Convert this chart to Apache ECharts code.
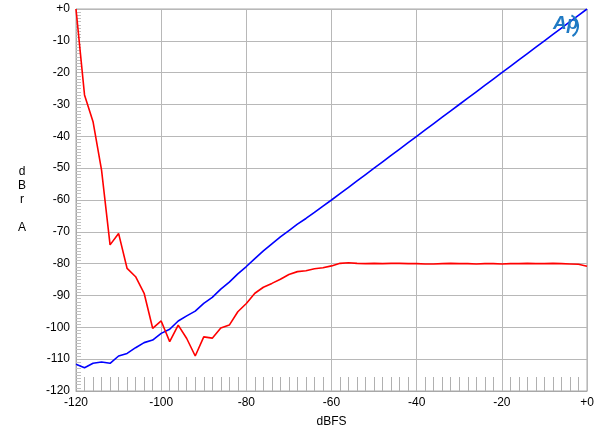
<!DOCTYPE html>
<html><head><meta charset="utf-8">
<script src="https://cdn.jsdelivr.net/npm/echarts@6/dist/echarts.min.js"></script>
<style>html,body{margin:0;padding:0;background:#fff}#c{width:600px;height:436px}</style>
</head><body><div id="c"></div>
<script>
const xValues = [-120,-118,-116,-114,-112,-110,-108,-106,-104,-102,-100,-98,-96,-94,-92,-90,-88,-86,-84,-82,-80,-78,-76,-74,-72,-70,-68,-66,-64,-62,-60,-58,-56,-54,-52,-50,-48,-46,-44,-42,-40,-38,-36,-34,-32,-30,-28,-26,-24,-22,-20,-18,-16,-14,-12,-10,-8,-6,-4,-2,0];
const redValues = [0,-27,-35.4,-50.6,-74.1,-70.5,-81.5,-84.1,-89.3,-100.3,-98.0,-104.5,-99.3,-103.5,-109.0,-103.0,-103.4,-100.2,-99.3,-95.1,-92.5,-89.3,-87.4,-86.2,-84.9,-83.4,-82.5,-82.2,-81.6,-81.3,-80.7,-79.9,-79.7,-79.9,-80.0,-79.9,-80.0,-79.9,-79.9,-80.0,-80.0,-80.1,-80.1,-80.0,-79.9,-80.0,-80.0,-80.1,-80.0,-80.0,-80.1,-80.0,-80.0,-79.9,-80.0,-80.0,-79.9,-80.0,-80.1,-80.2,-80.8];
const blueValues = [-111.6,-112.7,-111.3,-110.9,-111.3,-109.0,-108.2,-106.4,-104.8,-104.0,-101.9,-100.6,-98.0,-96.4,-94.9,-92.5,-90.6,-88.0,-85.8,-83.2,-80.9,-78.4,-76.0,-73.8,-71.6,-69.6,-67.6,-65.8,-63.9,-61.9,-60.0,-58.0,-56.0,-54.0,-52.0,-50.0,-48.0,-46.0,-44.0,-42.0,-40.0,-38.0,-36.0,-34.0,-32.0,-30.0,-28.0,-26.0,-24.0,-22.0,-20.0,-18.0,-16.0,-14.0,-12.0,-10.0,-8.0,-6.0,-4.0,-2.0,0];
const xTickLabels = {"-120":"-120","-100":"-100","-80":"-80","-60":"-60","-40":"-40","-20":"-20","0":"+0"};
const yAxisTitle = "d\nB\nr\n\nA";
const xAxisTitle = "dBFS";

const chart = echarts.init(document.getElementById('c'), null, {renderer:'canvas'});
const font = 'Liberation Sans, Arial, sans-serif';
const gridColor = '#b8b8b8';
chart.setOption({
  animation:false,
  backgroundColor:'#fff',
  grid:{left:76,right:13,top:9,bottom:45,show:true,borderColor:'#a8a8a8',borderWidth:1},
  xAxis:{type:'value',min:-120,max:0,interval:20,
    name:xAxisTitle,nameLocation:'middle',nameGap:25,
    nameTextStyle:{color:'#000',fontSize:12,fontFamily:font},
    axisLine:{show:true,onZero:false,lineStyle:{color:'#a8a8a8'}},
    axisTick:{show:false,inside:true},
    minorTick:{show:true,splitNumber:10,length:14,lineStyle:{color:'#b0b0b0',width:1}},
    axisLabel:{color:'#000',fontSize:12,fontFamily:font,margin:6,formatter:v=>xTickLabels[String(v)]||String(v)},
    splitLine:{show:true,lineStyle:{color:gridColor,width:1}}
  },
  yAxis:{type:'value',min:-120,max:0,interval:10,
    name:yAxisTitle,nameLocation:'middle',nameGap:54,nameRotate:0,
    nameTextStyle:{color:'#000',fontSize:12,fontFamily:font,lineHeight:14,align:'center'},
    axisLine:{show:true,onZero:false,lineStyle:{color:'#a8a8a8'}},
    axisTick:{show:false,inside:true},
    minorTick:{show:true,splitNumber:10,length:5,lineStyle:{color:'#c0c0c0',width:1}},
    axisLabel:{color:'#000',fontSize:12,fontFamily:font,margin:6,formatter:v=>v===0?'+0':String(v)},
    splitLine:{show:true,lineStyle:{color:gridColor,width:1}}
  },
  series:[
    {type:'line',data:xValues.map((x,i)=>[x,blueValues[i]]),symbol:'none',lineStyle:{color:'#0000ff',width:1.6},z:3},
    {type:'line',data:xValues.map((x,i)=>[x,redValues[i]]),symbol:'none',lineStyle:{color:'#ff0000',width:1.6},z:4}
  ],
  graphic:[
    {type:'text',left:553,top:14,z:10,style:{text:'Ap',fill:'#1f7ac4',font:'italic bold 19px '+font}},
    {type:'arc',z:10,shape:{cx:566,cy:26,r:12,startAngle:-1.1,endAngle:1.0},style:{stroke:'#1f7ac4',lineWidth:2,fill:null}}
  ]
});
</script></body></html>
